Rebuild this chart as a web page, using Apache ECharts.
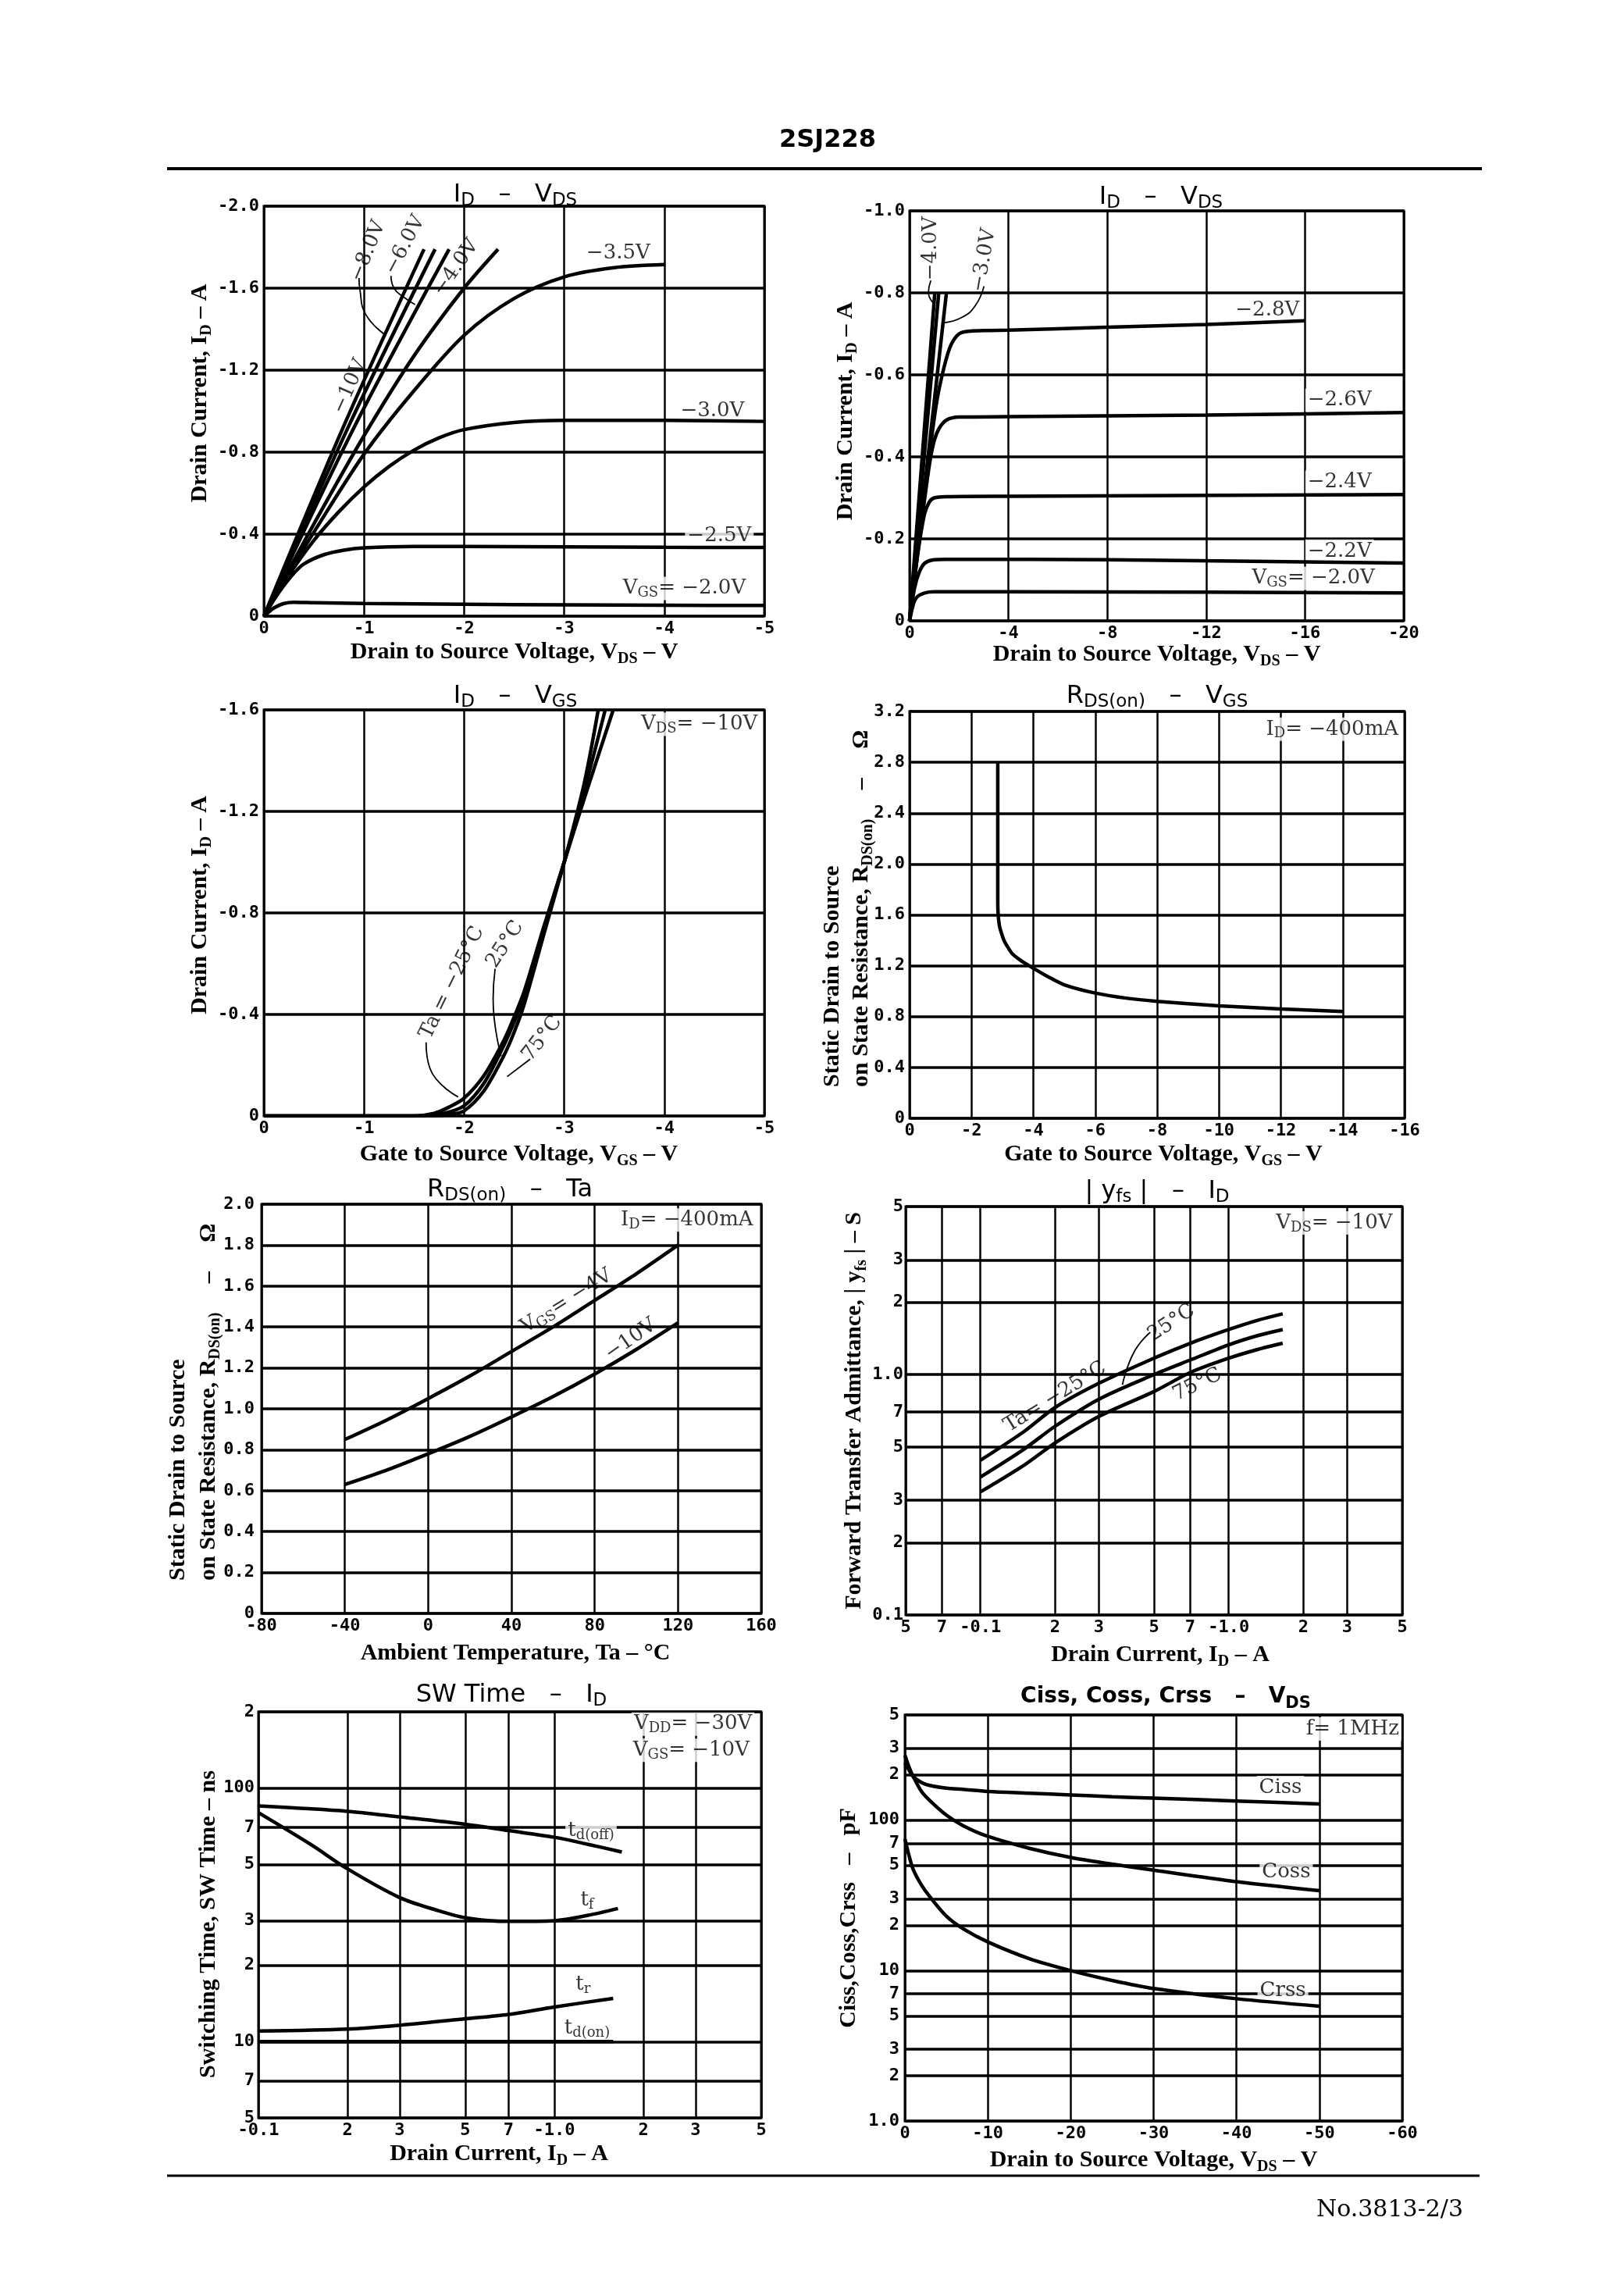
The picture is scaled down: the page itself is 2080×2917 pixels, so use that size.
<!DOCTYPE html>
<html>
<head>
<meta charset="utf-8">
<script src="https://cdn.jsdelivr.net/npm/echarts@6/dist/echarts.min.js"></script>
<style>
html,body{margin:0;padding:0;background:#fff;}
#c{width:2080px;height:2917px;}
</style>
</head>
<body>
<div id="c"></div>
<script>
// Chart 1: ID – VDS (VDS 0..-5 V), [VDS, ID]
const c1_vgs_2_0 = [[0,0],[-0.1,-0.04],[-0.2,-0.062],[-0.3,-0.068],[-0.5,-0.066],[-1,-0.062],[-2,-0.058],[-3,-0.055],[-4,-0.053],[-5,-0.052]];
const c1_vgs_2_5 = [[0,0],[-0.1,-0.08],[-0.2,-0.15],[-0.3,-0.21],[-0.4,-0.255],[-0.6,-0.30],[-0.8,-0.322],[-1,-0.333],[-1.5,-0.34],[-2,-0.34],[-3,-0.338],[-4,-0.336],[-5,-0.335]];
const c1_vgs_3_0 = [[0,0],[-0.25,-0.2],[-0.5,-0.37],[-0.75,-0.51],[-1,-0.63],[-1.25,-0.73],[-1.5,-0.81],[-1.75,-0.87],[-2,-0.91],[-2.5,-0.945],[-3,-0.955],[-4,-0.955],[-5,-0.95]];
const c1_vgs_3_5 = [[0,0],[-0.25,-0.21],[-0.5,-0.41],[-1,-0.79],[-1.5,-1.1],[-2,-1.37],[-2.5,-1.55],[-3,-1.655],[-3.5,-1.70],[-4,-1.715]];
const c1_vgs_4_0 = [[0,0],[-0.5,-0.45],[-1.0,-0.88],[-1.5,-1.27],[-2.0,-1.6],[-2.34,-1.79]];
const c1_vgs_6_0 = [[0,0],[-0.9,-0.92],[-1.85,-1.79]];
const c1_vgs_8_0 = [[0,0],[-0.85,-0.93],[-1.71,-1.79]];
const c1_vgs_10 = [[0,0],[-0.8,-0.93],[-1.6,-1.79]];
const c1_labels = [
  [-3.54,-1.77,'−3.5V',0,1],[-4.48,-1.00,'−3.0V',0,1],[-4.55,-0.39,'−2.5V',0,1],
  [-4.2,-0.135,'V_{GS}= −2.0V',0,1],[-0.86,-1.12,'−10V',66,0],[-1.04,-1.78,'−8.0V',68,0],
  [-1.41,-1.81,'−6.0V',62,0],[-1.92,-1.70,'−4.0V',55,0]
];
const c1_leaders = [
  [[-0.95,-1.65],[-0.96,-1.59],[-1.02,-1.47],[-1.22,-1.37]],
  [[-1.27,-1.66],[-1.30,-1.60],[-1.40,-1.555],[-1.51,-1.52]]
];

// Chart 2: ID – VDS (VDS 0..-20 V)
const c2_vgs_2_0 = [[0,0],[-0.15,-0.04],[-0.3,-0.058],[-0.6,-0.068],[-1,-0.071],[-4,-0.071],[-12,-0.07],[-20,-0.068]];
const c2_vgs_2_2 = [[0,0],[-0.2,-0.08],[-0.4,-0.12],[-0.6,-0.14],[-0.9,-0.148],[-1.5,-0.15],[-8,-0.149],[-20,-0.141]];
const c2_vgs_2_4 = [[0,0],[-0.3,-0.15],[-0.6,-0.26],[-0.8,-0.29],[-1.0,-0.30],[-1.5,-0.303],[-4,-0.304],[-20,-0.308]];
const c2_vgs_2_6 = [[0,0],[-0.4,-0.2],[-0.8,-0.38],[-1.0,-0.44],[-1.2,-0.47],[-1.5,-0.49],[-2,-0.497],[-4,-0.498],[-12,-0.502],[-20,-0.508]];
const c2_vgs_2_8 = [[0,0],[-0.5,-0.26],[-1.07,-0.524],[-1.4,-0.62],[-1.7,-0.676],[-2.1,-0.703],[-3,-0.708],[-4,-0.709],[-8,-0.716],[-12,-0.723],[-16,-0.732]];
const c2_vgs_3_0 = [[0,0],[-1.49,-0.8]];
const c2_vgs_3_5 = [[0,0],[-1.18,-0.8]];
const c2_vgs_4_0 = [[0,0],[-1.02,-0.8]];
const c2_labels = [
  [-14.48,-0.758,'−2.8V',0,0],[-17.4,-0.538,'−2.6V',0,1],[-17.4,-0.338,'−2.4V',0,1],
  [-17.4,-0.170,'−2.2V',0,1],[-16.34,-0.104,'V_{GS}= −2.0V',0,1],
  [-0.86,-0.908,'−4.0V',90,0],[-3.01,-0.879,'−3.0V',80,0]
];
const c2_leaders = [
  [[-0.86,-0.83],[-0.76,-0.80],[-0.97,-0.775]],
  [[-3.01,-0.816],[-2.65,-0.768],[-2.11,-0.74],[-1.38,-0.727]]
];

// Chart 3: ID – VGS (VDS = -10V)
const c3_ta_m25 = [[0,0],[-1.5,0],[-1.7,-0.01],[-1.85,-0.035],[-2.0,-0.07],[-2.2,-0.16],[-2.4,-0.30],[-2.5,-0.39],[-2.6,-0.49],[-2.8,-0.75],[-3.0,-1.0],[-3.2,-1.25],[-3.49,-1.6]];
const c3_ta_25 = [[0,0],[-1.6,0],[-1.8,-0.01],[-2.0,-0.04],[-2.2,-0.13],[-2.4,-0.28],[-2.5,-0.37],[-2.6,-0.47],[-2.8,-0.74],[-3.0,-1.0],[-3.2,-1.28],[-3.41,-1.6]];
const c3_ta_75 = [[0,0],[-1.7,0],[-1.85,-0.005],[-2.0,-0.02],[-2.2,-0.1],[-2.4,-0.24],[-2.5,-0.33],[-2.6,-0.44],[-2.8,-0.72],[-3.0,-1.0],[-3.2,-1.31],[-3.34,-1.6]];
const c3_labels = [
  [-1.88,-0.525,'Ta = −25°C',64,0],[-2.41,-0.676,'25°C',57,0],[-2.78,-0.305,'75°C',52,0],
  [-4.35,-1.543,'V_{DS}= −10V',0,1]
];
const c3_leaders = [
  [[-1.62,-0.29],[-1.66,-0.186],[-1.94,-0.075]],
  [[-2.31,-0.58],[-2.29,-0.46],[-2.37,-0.236]],
  [[-2.66,-0.224],[-2.43,-0.155]]
];

// Chart 4: RDS(on) – VGS (ID = -400mA)
const c4_rds = [[-2.85,2.8],[-2.85,1.7],[-2.9,1.52],[-3.05,1.4],[-3.3,1.3],[-3.6,1.24],[-4,1.18],[-4.5,1.11],[-5,1.05],[-6,0.985],[-7,0.945],[-8,0.92],[-10,0.885],[-12,0.86],[-14,0.84]];
const c4_labels = [[-13.66,3.06,'I_{D}= −400mA',0,1]];

// Chart 5: RDS(on) – Ta (ID = -400mA)
const c5_ta = [-40,-20,0,20,40,60,80,100,120];
const c5_vgs_4 = [0.85,0.945,1.05,1.16,1.28,1.40,1.53,1.66,1.80];
const c5_vgs_10 = [0.63,0.70,0.78,0.865,0.96,1.06,1.17,1.29,1.42];
const c5_labels = [[66.5,1.525,'V_{GS}= −4V',32,0],[97.3,1.338,'−10V',35,0],[124.3,1.923,'I_{D}= −400mA',0,1]];

// Chart 6: |yfs| – ID (magnitudes of ID, A), VDS = -10V
const c6_id = [0.1,0.15,0.2,0.3,0.5,0.7,1.0,1.3,1.65];
const c6_ta_m25 = [0.44,0.58,0.73,0.92,1.17,1.35,1.54,1.68,1.79];
const c6_ta_25 = [0.375,0.49,0.61,0.79,1.0,1.15,1.33,1.45,1.54];
const c6_ta_75 = [0.325,0.42,0.52,0.67,0.85,1.02,1.17,1.27,1.35];
const c6_xTicks = [0.05,0.07,0.1,0.2,0.3,0.5,0.7,1,2,3,5];
const c6_xTickLabels = ['5','7','-0.1','2','3','5','7','-1.0','2','3','5'];
const c6_yTicks = [0.1,0.2,0.3,0.5,0.7,1,2,3,5];
const c6_yTickLabels = ['0.1','2','3','5','7','1.0','2','3','5'];
const c6_labels = [[0.2,0.806,'Ta= −25°C',32,0],[0.588,1.64,'25°C',33,0],[0.747,0.907,'75°C',26,0],[2.66,4.27,'V_{DS}= −10V',0,1]];
const c6_leaders = [[[0.483,1.50],[0.415,1.237],[0.373,0.907]]];

// Chart 7: SW Time – ID (magnitudes of ID, A)
const c7_tdoff_id = [0.1,0.2,0.3,0.5,0.7,1.0,1.3,1.69];
const c7_tdoff = [85,81,77,72,68,64,60,56];
const c7_tf_id = [0.1,0.15,0.2,0.3,0.4,0.5,0.7,1.0,1.3,1.64];
const c7_tf = [80,60,48,37,33,30.8,29.8,30,31.5,33.5];
const c7_tr_id = [0.1,0.2,0.3,0.5,0.7,1.0,1.58];
const c7_tr = [11.0,11.2,11.6,12.3,12.8,13.7,14.8];
const c7_tdon_id = [0.1,1.58];
const c7_tdon = [10,10];
const c7_xTicks = [0.1,0.2,0.3,0.5,0.7,1,2,3,5];
const c7_xTickLabels = ['-0.1','2','3','5','7','-1.0','2','3','5'];
const c7_yTicks = [5,7,10,20,30,50,70,100,200];
const c7_yTickLabels = ['5','7','10','2','3','5','7','100','2'];
const c7_labels = [[1.33,67.9,'t_{d(off)}',0,1],[1.29,36.1,'t_{f}',0,0],[1.25,16.8,'t_{r}',0,0],[1.29,11.3,'t_{d(on)}',0,0],
  [2.94,178.9,'V_{DD}= −30V',0,1],[2.90,141,'V_{GS}= −10V',0,1]];

// Chart 8: Ciss, Coss, Crss – VDS (f = 1MHz)
const c8_vds = [0,-0.5,-1,-2,-3,-5,-7,-10,-15,-20,-25,-30,-40,-50];
const c8_ciss = [240,215,195,178,170,163,160,155,151,147,143,140,134,128];
const c8_coss = [270,225,195,155,135,108,92,78,65,56.5,51,46.5,39,34];
const c8_crss = [75,58,47,37,31,23,19,15.5,12,10,8.6,7.6,6.5,5.8];
const c8_yTicks = [1,2,3,5,7,10,20,30,50,70,100,200,300,500];
const c8_yTickLabels = ['1.0','2','3','5','7','10','2','3','5','7','100','2','3','5'];
const c8_labels = [[-45.3,164.5,'Ciss',0,1],[-46,45.1,'Coss',0,1],[-45.6,7.33,'Crss',0,1],[-54,403,'f= 1MHz',0,1]];

// ================= STYLE / LAYOUT =================
const NAME_FONT = 'Liberation Serif';
const ANN_FONT = 'DejaVu Serif';
const TICK_FONT = 'DejaVu Sans Mono';
const TITLE_FONT = 'DejaVu Sans';

const NAME_RICH = {
  n: {fontFamily: NAME_FONT, fontWeight: 'bold', fontSize: 30, lineHeight: 38, color: '#000', verticalAlign: 'middle'},
  s: {fontFamily: NAME_FONT, fontWeight: 'bold', fontSize: 20, lineHeight: 20, color: '#000', verticalAlign: 'bottom'}
};
const ANN_RICH = {
  t: {fontFamily: ANN_FONT, fontSize: 26, lineHeight: 30, color: '#000', verticalAlign: 'middle'},
  s: {fontFamily: ANN_FONT, fontSize: 18, lineHeight: 18, color: '#000', verticalAlign: 'bottom'}
};
const TITLE_RICH = {
  a: {fontFamily: TITLE_FONT, fontWeight: 'normal', fontSize: 32, lineHeight: 38, color: '#000', verticalAlign: 'middle'},
  b: {fontFamily: TITLE_FONT, fontWeight: 'normal', fontSize: 23, lineHeight: 23, color: '#000', verticalAlign: 'bottom'},
  A: {fontFamily: TITLE_FONT, fontWeight: 'bold', fontSize: 28, lineHeight: 38, color: '#000', verticalAlign: 'middle'},
  B: {fontFamily: TITLE_FONT, fontWeight: 'bold', fontSize: 21, lineHeight: 21, color: '#000', verticalAlign: 'bottom'}
};

// text markup: "V_{DS}" -> rich tokens
function rt(str, main, sub) {
  return '{' + main + '|' + str.replace(/_\{([^}]*)\}/g, '}{' + sub + '|$1}{' + main + '|') + '}';
}

const GRIDS = [
  [338, 264, 641, 525],
  [1165, 270, 633, 525],
  [338, 909, 641, 520],
  [1165, 911, 634, 521],
  [335, 1542, 640, 524],
  [1160, 1545, 636, 523],
  [331, 2192, 644, 520],
  [1159, 2196, 637, 520]
];

const TITLES = [
  [660, 250, 'I_{D}   –   V_{DS}', 0],
  [1487, 253, 'I_{D}   –   V_{DS}', 0],
  [660, 892, 'I_{D}   –   V_{GS}', 0],
  [1482, 892, 'R_{DS(on)}   –   V_{GS}', 0],
  [653, 1524, 'R_{DS(on)}   –   Ta', 0],
  [1482, 1526, '| y_{fs} |   –   I_{D}', 0],
  [655, 2171, 'SW Time   –   I_{D}', 0],
  [1493, 2173, 'Ciss, Coss, Crss   –   V_{DS}', 1]
];

function fixed1(v) { return Math.abs(v) < 1e-9 ? '0' : v.toFixed(1); }
function intFmt(v) { return Math.abs(v) < 1e-9 ? '0' : String(Math.round(v)); }
function tickFmt(vals, labels) {
  return function (v) {
    let best = -1, bd = Infinity;
    vals.forEach(function (t, i) {
      const d = Math.abs(Math.log(v) - Math.log(t));
      if (d < bd) { bd = d; best = i; }
    });
    return bd < 1e-6 ? labels[best] : '';
  };
}

function axis(gi, dim, o) {
  const isX = dim === 'x';
  const a = {
    gridIndex: gi,
    z: 0,
    type: o.type || 'value',
    min: o.min, max: o.max,
    inverse: !!o.inverse,
    axisLine: {show: false},
    axisTick: {show: false},
    splitLine: {show: true, lineStyle: {color: '#000', width: isX ? 2.5 : 3.5}},
    axisLabel: {color: '#000', fontFamily: TICK_FONT, fontWeight: 'bold', fontSize: 22,
      margin: o.margin !== undefined ? o.margin : (isX ? 5 : 6), formatter: o.formatter},
    nameLocation: 'middle',
    nameGap: o.nameGap || 30,
    nameTextStyle: {padding: o.namePad || 0, rich: NAME_RICH}
  };
  if (o.name) a.name = rt(o.name, 'n', 's');
  if (o.interval !== undefined) a.interval = o.interval;
  if (o.type === 'log') a.logBase = 10;
  if (o.ticks) {
    a.axisTick.customValues = o.ticks;
    a.axisLabel.customValues = o.ticks;
    a.axisLabel.formatter = tickFmt(o.ticks, o.tickLabels);
  }
  return a;
}

const xAxes = [
  axis(0, 'x', {min: -5, max: 0, interval: 1, inverse: true, formatter: intFmt, name: 'Drain to Source Voltage, V_{DS} – V', nameGap: 27}),
  axis(1, 'x', {min: -20, max: 0, interval: 4, inverse: true, formatter: intFmt, name: 'Drain to Source Voltage, V_{DS} – V', nameGap: 22}),
  axis(2, 'x', {min: -5, max: 0, interval: 1, inverse: true, formatter: intFmt, name: 'Gate to Source Voltage, V_{GS} – V', nameGap: 30, namePad: [0,0,0,12]}),
  axis(3, 'x', {min: -16, max: 0, interval: 2, inverse: true, formatter: intFmt, name: 'Gate to Source Voltage, V_{GS} – V', nameGap: 27, namePad: [0,0,0,16]}),
  axis(4, 'x', {min: -80, max: 160, interval: 40, formatter: intFmt, name: 'Ambient Temperature, Ta – °C', nameGap: 32, namePad: [0,0,0,10]}),
  axis(5, 'x', {type: 'log', min: 0.05, max: 5, ticks: c6_xTicks, tickLabels: c6_xTickLabels, name: 'Drain Current, I_{D} – A', nameGap: 32, namePad: [0,0,0,16]}),
  axis(6, 'x', {type: 'log', min: 0.1, max: 5, ticks: c7_xTicks, tickLabels: c7_xTickLabels, name: 'Drain Current, I_{D} – A', nameGap: 27, namePad: [0,28,0,0]}),
  axis(7, 'x', {min: -60, max: 0, interval: 10, inverse: true, formatter: intFmt, name: 'Drain to Source Voltage, V_{DS} – V', nameGap: 31})
];
const yAxes = [
  axis(0, 'y', {min: -2, max: 0, interval: 0.4, inverse: true, formatter: fixed1, name: 'Drain Current, I_{D} – A', nameGap: 61, namePad: [0,0,0,46]}),
  axis(1, 'y', {min: -1, max: 0, interval: 0.2, inverse: true, formatter: fixed1, name: 'Drain Current, I_{D} – A', nameGap: 61, namePad: [0,0,0,12]}),
  axis(2, 'y', {min: -1.6, max: 0, interval: 0.4, inverse: true, formatter: fixed1, name: 'Drain Current, I_{D} – A', nameGap: 61, namePad: [0,0,0,20]}),
  axis(3, 'y', {min: 0, max: 3.2, interval: 0.4, formatter: fixed1}),
  axis(4, 'y', {min: 0, max: 2, interval: 0.2, formatter: fixed1, margin: 9}),
  axis(5, 'y', {type: 'log', min: 0.1, max: 5, ticks: c6_yTicks, tickLabels: c6_yTickLabels, margin: 3, name: 'Forward Transfer Admittance, | y_{fs} | – S', nameGap: 38}),
  axis(6, 'y', {type: 'log', min: 5, max: 200, ticks: c7_yTicks, tickLabels: c7_yTickLabels, margin: 5, name: 'Switching Time, SW Time – ns', nameGap: 41, namePad: [0,24,0,0]}),
  axis(7, 'y', {type: 'log', min: 1, max: 500, ticks: c8_yTicks, tickLabels: c8_yTickLabels, margin: 7, name: 'Ciss,Coss,Crss   –   pF', nameGap: 53})
];

// ================= SERIES =================
// All series live on their own canvas layer (zlevel 1) above the grid lines;
// within it the curves (z 4) are painted over the annotation labels (z 2).
const series = [];
function curve(gi, data, smooth) {
  series.push({type: 'line', xAxisIndex: gi, yAxisIndex: gi, data: data, symbol: 'none', showSymbol: false,
    smooth: smooth === undefined ? 0.3 : smooth, lineStyle: {color: '#000', width: 4.5}, silent: true, zlevel: 1, z: 4});
}
function pairs(xs, ys) { return xs.map(function (x, i) { return [x, ys[i]]; }); }
function leaders(gi, list) {
  list.forEach(function (d) {
    series.push({type: 'line', xAxisIndex: gi, yAxisIndex: gi, data: d, symbol: 'none', showSymbol: false,
      smooth: 0.5, lineStyle: {color: '#000', width: 1.8}, silent: true, zlevel: 1, z: 4});
  });
}
function notes(gi, items) {
  series.push({
    type: 'scatter', xAxisIndex: gi, yAxisIndex: gi, symbol: 'circle', symbolSize: 1,
    itemStyle: {color: 'rgba(0,0,0,0)'}, silent: true, zlevel: 1, z: 2,
    label: {show: true, position: 'inside', rich: ANN_RICH},
    data: items.map(function (it) {
      const lab = {show: true, formatter: rt(it[2], 't', 's'), rotate: it[3] || 0, padding: [0, 3]};
      if (it[4]) { lab.backgroundColor = '#ffffff'; }
      return {value: [it[0], it[1]], label: lab};
    })
  });
}

// chart 1
[c1_vgs_2_0, c1_vgs_2_5, c1_vgs_3_0, c1_vgs_3_5, c1_vgs_4_0, c1_vgs_6_0, c1_vgs_8_0, c1_vgs_10].forEach(function (d) { curve(0, d); });
leaders(0, c1_leaders); notes(0, c1_labels);
// chart 2
[c2_vgs_2_0, c2_vgs_2_2, c2_vgs_2_4, c2_vgs_2_6, c2_vgs_2_8, c2_vgs_3_0, c2_vgs_3_5, c2_vgs_4_0].forEach(function (d) { curve(1, d); });
leaders(1, c2_leaders); notes(1, c2_labels);
// chart 3
[c3_ta_m25, c3_ta_25, c3_ta_75].forEach(function (d) { curve(2, d); });
leaders(2, c3_leaders); notes(2, c3_labels);
// chart 4
curve(3, c4_rds, 0.2); notes(3, c4_labels);
// chart 5
curve(4, pairs(c5_ta, c5_vgs_4)); curve(4, pairs(c5_ta, c5_vgs_10)); notes(4, c5_labels);
// chart 6
curve(5, pairs(c6_id, c6_ta_m25)); curve(5, pairs(c6_id, c6_ta_25)); curve(5, pairs(c6_id, c6_ta_75));
leaders(5, c6_leaders); notes(5, c6_labels);
// chart 7
curve(6, pairs(c7_tdoff_id, c7_tdoff)); curve(6, pairs(c7_tf_id, c7_tf)); curve(6, pairs(c7_tr_id, c7_tr)); curve(6, pairs(c7_tdon_id, c7_tdon));
notes(6, c7_labels);
// chart 8
curve(7, pairs(c8_vds, c8_ciss)); curve(7, pairs(c8_vds, c8_coss)); curve(7, pairs(c8_vds, c8_crss));
notes(7, c8_labels);

// ================= PAGE TEXT / RULES =================
function yTitle2(x1, x2, yb) {
  return [
    {type: 'text', x: x1, y: yb, rotation: Math.PI / 2, silent: true,
      style: {text: rt('Static Drain to Source', 'n', 's'), rich: NAME_RICH, align: 'left', verticalAlign: 'middle'}},
    {type: 'text', x: x2, y: yb, rotation: Math.PI / 2, silent: true,
      style: {text: rt('on State Resistance, R_{DS(on)}     –     Ω', 'n', 's'), rich: NAME_RICH, align: 'left', verticalAlign: 'middle'}}
  ];
}

const graphics = [
  {type: 'text', x: 1060, y: 180, silent: true,
    style: {text: '2SJ228', fill: '#000', font: 'bold 32px "DejaVu Sans"', align: 'center', verticalAlign: 'middle'}},
  {type: 'line', silent: true, shape: {x1: 214, y1: 216, x2: 1898, y2: 216}, style: {stroke: '#000', lineWidth: 4}},
  {type: 'line', silent: true, shape: {x1: 214, y1: 2786, x2: 1895, y2: 2786}, style: {stroke: '#000', lineWidth: 3}},
  {type: 'text', x: 1780, y: 2830, silent: true,
    style: {text: 'No.3813-2/3', fill: '#000', font: '30px "DejaVu Serif"', align: 'center', verticalAlign: 'middle'}}
].concat(yTitle2(1066, 1103, 1392), yTitle2(228, 267, 2024));

const option = {
  animation: false,
  backgroundColor: '#fff',
  title: TITLES.map(function (t) {
    return {text: rt(t[2], t[3] ? 'A' : 'a', t[3] ? 'B' : 'b'), left: t[0], top: t[1] - 19, textAlign: 'center',
      padding: 0, textStyle: {fontWeight: t[3] ? 'bold' : 'normal', rich: TITLE_RICH}};
  }),
  grid: GRIDS.map(function (g) {
    return {left: g[0], top: g[1], width: g[2], height: g[3], show: true, borderColor: '#000', borderWidth: 3,
      backgroundColor: 'transparent', containLabel: false, z: 0};
  }),
  xAxis: xAxes,
  yAxis: yAxes,
  series: series,
  graphic: {elements: graphics}
};

const chart = echarts.init(document.getElementById('c'), null, {renderer: 'canvas', width: 2080, height: 2917, devicePixelRatio: 1});
chart.setOption(option);
</script>
</body>
</html>
